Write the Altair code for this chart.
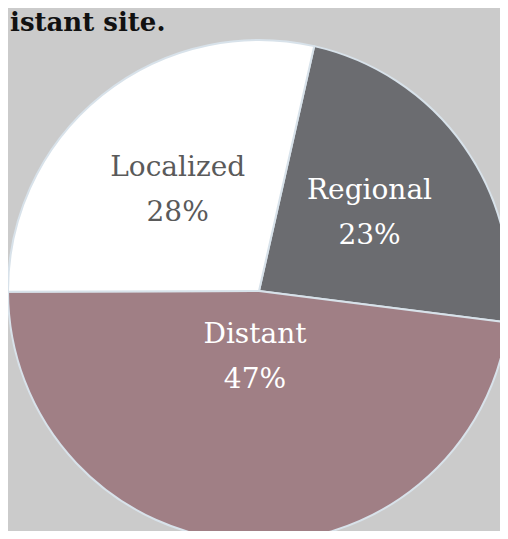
import math
import altair as alt
import pandas as pd

categories = ["Regional", "Distant", "Localized"]
shares = [23, 47, 28]
slice_colors = ["#6b6c70", "#a07f85", "#ffffff"]
text_colors = ["#ffffff", "#ffffff", "#5a5a5a"]
title_text = "istant site."

df = pd.DataFrame({"category": categories, "share": shares, "idx": list(range(len(categories)))})

start = math.radians(12.7)
theta_scale = alt.Scale(domain=[0, sum(shares)], range=[start, start + 2 * math.pi])

cx, cy = 251, 283

base = alt.Chart(df).transform_window(
    cum="sum(share)", sort=[alt.SortField("idx")], frame=[None, 0]
).transform_calculate(
    t0="datum.cum - datum.share",
    mid="datum.cum - datum.share / 2",
    label="datum.category + '\\n' + datum.share + '%'",
)

pie = base.mark_arc(radius=251, stroke="#d8e2ea", strokeWidth=2).encode(
    theta=alt.Theta("t0:Q", scale=theta_scale, stack=None),
    theta2="cum:Q",
    color=alt.Color("category:N", scale=alt.Scale(domain=categories, range=slice_colors), legend=None),
    x=alt.value(cx),
    y=alt.value(cy),
)

label_radius = {"Regional": 135, "Distant": 66, "Localized": 130}


def label_layer(cat, color):
    return base.transform_filter(alt.datum.category == cat).mark_text(
        radius=label_radius[cat], font="DejaVu Serif", fontSize=28,
        lineBreak="\n", lineHeight=45, color=color, align="center", baseline="middle",
        dy=-22,
    ).encode(
        theta=alt.Theta("mid:Q", scale=theta_scale, stack=None),
        text="label:N",
        x=alt.value(cx),
        y=alt.value(cy),
    )


labels = [label_layer(c, tc) for c, tc in zip(categories, text_colors)]

title = alt.Chart(alt.Data(values=[{"t": title_text}])).mark_text(
    font="DejaVu Serif", fontSize=26, fontWeight="bold", color="#111111",
    align="left", baseline="top",
).encode(text="t:N", x=alt.value(2), y=alt.value(2))

chart = alt.layer(pie, *labels, title).properties(
    width=492, height=523,
    autosize=alt.AutoSizeParams(type="none"),
    padding=0,
    background="#cbcbcb",
).configure_view(stroke=None)

chart.save("out.html", embed_options={"renderer": "svg", "actions": False})
